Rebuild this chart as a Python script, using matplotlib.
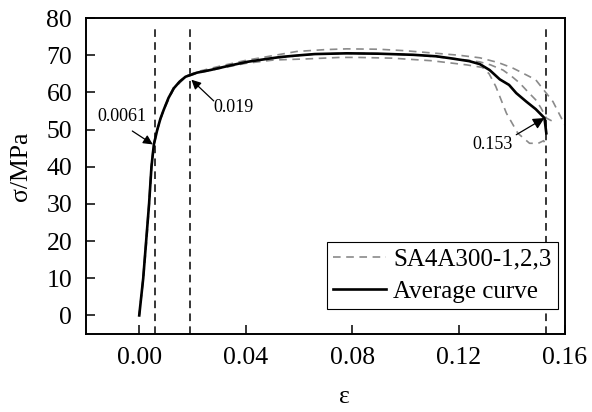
import matplotlib
matplotlib.use("Agg")
import matplotlib.pyplot as plt

plt.rcParams['font.family'] = ['Liberation Serif', 'DejaVu Serif']
plt.rcParams['lines.scale_dashes'] = False

# Average stress-strain curve
eps_avg = [0.0, 0.0015, 0.0026, 0.0037, 0.0046, 0.0055, 0.0068, 0.0080, 0.0092,
           0.0110, 0.0130, 0.0152, 0.0174, 0.0217, 0.0267, 0.0340, 0.0405, 0.0480,
           0.0530, 0.0590, 0.0660, 0.0780, 0.0900, 0.1030, 0.1117, 0.1167, 0.1240,
           0.1280, 0.1317, 0.1355, 0.1390, 0.1417, 0.1455, 0.1490, 0.1523, 0.1530]
sig_avg = [0.0, 10.0, 20.0, 30.0, 40.0, 46.0, 50.0, 53.0, 55.3,
           58.5, 61.1, 62.9, 64.2, 65.3, 66.0, 67.2, 68.2, 69.0,
           69.5, 69.9, 70.3, 70.5, 70.4, 70.1, 69.7, 69.2, 68.4,
           67.6, 66.0, 63.5, 62.0, 59.8, 57.5, 55.5, 53.1, 49.0]

# Specimen SA4A300-1
eps_s1 = [0.0, 0.0016, 0.0028, 0.0038, 0.0047, 0.0056, 0.0070, 0.0093, 0.0130,
          0.0175, 0.0220, 0.0300, 0.0400, 0.0480, 0.0592, 0.0700, 0.0780, 0.0900,
          0.1000, 0.1100, 0.1200, 0.1280, 0.1350, 0.1405, 0.1430, 0.1490, 0.1555,
          0.1605]
sig_s1 = [0.0, 10.0, 20.0, 30.0, 40.0, 46.0, 50.5, 55.8, 61.5,
          64.4, 65.6, 67.0, 68.6, 69.6, 71.0, 71.5, 71.7, 71.6,
          71.2, 70.6, 70.0, 69.3, 68.0, 66.5, 65.6, 63.4, 57.5,
          50.5]

# Specimen SA4A300-2
eps_s2 = [0.0, 0.0015, 0.0026, 0.0037, 0.0046, 0.0055, 0.0068, 0.0092, 0.0130,
          0.0174, 0.0217, 0.0267, 0.0340, 0.0480, 0.0660, 0.0780, 0.0900, 0.1030,
          0.1170, 0.1240, 0.1280, 0.1320, 0.1367, 0.1400, 0.1430, 0.1460, 0.1490,
          0.1510, 0.1530, 0.1567]
sig_s2 = [0.0, 10.0, 20.0, 30.0, 40.0, 46.0, 50.0, 55.3, 61.1,
          64.2, 65.3, 66.0, 67.2, 69.0, 70.3, 70.5, 70.4, 70.1,
          69.2, 68.6, 68.2, 67.4, 66.0, 64.3, 62.5, 60.2, 58.0,
          55.8, 53.1, 51.7]

# Specimen SA4A300-3
eps_s3 = [0.0, 0.0014, 0.0025, 0.0036, 0.0045, 0.0054, 0.0067, 0.0090, 0.0128,
          0.0172, 0.0215, 0.0300, 0.0400, 0.0505, 0.0630, 0.0755, 0.0820, 0.0950,
          0.1100, 0.1230, 0.1290, 0.1315, 0.1340, 0.1380, 0.1423, 0.1467, 0.1500,
          0.1520, 0.1530]
sig_s3 = [0.0, 10.0, 20.0, 30.0, 40.0, 46.0, 49.8, 55.0, 60.8,
          64.0, 65.1, 66.4, 67.8, 68.7, 69.0, 69.4, 69.4, 69.2,
          68.5, 67.4, 66.7, 65.0, 61.6, 54.4, 49.0, 46.3, 46.3,
          47.0, 45.5]

# Characteristic strains marked on the curve
mark_eps = [0.0061, 0.019, 0.153]
mark_labels = ['0.0061', '0.019', '0.153']

x_ticks = [0.00, 0.04, 0.08, 0.12, 0.16]
y_ticks = [0, 10, 20, 30, 40, 50, 60, 70, 80]

fig = plt.figure(figsize=(5.92, 4.12), dpi=100)
ax = fig.add_axes([0.1453, 0.1893, 0.809, 0.767])

gray = '#8a8a8a'
specimens = [(eps_s1, sig_s1), (eps_s2, sig_s2), (eps_s3, sig_s3)]
for i, (e, s) in enumerate(specimens):
    ax.plot(e, s, color=gray, lw=1.2, dashes=(5.5, 4.0),
            label='SA4A300-1,2,3' if i == 0 else None, zorder=2)

ax.plot(eps_avg, sig_avg, color='black', lw=1.9, label='Average curve', zorder=3)

for xe in mark_eps:
    ax.vlines(xe, -5, 78.5, colors='black', lw=1.1, linestyles=(0, (5.5, 3.8)), zorder=1)

# Arrows pointing at the characteristic strains, labels placed beside them
ann = dict(arrowstyle='-|>', color='black', lw=0.9, mutation_scale=14,
           shrinkA=0, shrinkB=0)
ax.annotate('', xy=(0.0051, 46.0), xytext=(-0.0026, 49.6), arrowprops=ann)
ax.text(0.0027, 53.4, mark_labels[0], fontsize=13, ha='right', va='center')

ax.annotate('', xy=(0.0196, 63.4), xytext=(0.028, 57.7), arrowprops=ann)
ax.text(0.0278, 55.8, mark_labels[1], fontsize=13, ha='left', va='center')

ax.annotate('', xy=(0.1523, 53.1), xytext=(0.1417, 48.6),
            arrowprops=dict(ann, mutation_scale=17))
ax.text(0.1402, 46.0, mark_labels[2], fontsize=13, ha='right', va='center')

ax.set_xlim(-0.02, 0.16)
ax.set_ylim(-5, 80)
ax.set_xticks(x_ticks)
ax.set_xticklabels([f'{t:.2f}' for t in x_ticks])
ax.set_yticks(y_ticks)

ax.tick_params(direction='in', length=6.5, width=1.1, labelsize=18.5, pad=9,
               top=False, right=False)
ax.tick_params(axis='y', pad=10)
for sp in ax.spines.values():
    sp.set_linewidth(1.4)

ax.set_xlabel('ε', fontsize=18.5)
ax.set_ylabel('σ/MPa', fontsize=18.5)
ax.xaxis.set_label_coords(0.54, -0.163)
ax.yaxis.set_label_coords(-0.113, 0.53)

leg = ax.legend(loc='lower right', bbox_to_anchor=(0.985, 0.079), fontsize=18,
                frameon=True, fancybox=False, framealpha=1, edgecolor='black',
                handlelength=2.1, handletextpad=0.3, borderpad=0.25,
                labelspacing=0.4, borderaxespad=0)
leg.get_frame().set_linewidth(0.8)
leg.set_zorder(5)

fig.savefig('out.png', dpi=100)
